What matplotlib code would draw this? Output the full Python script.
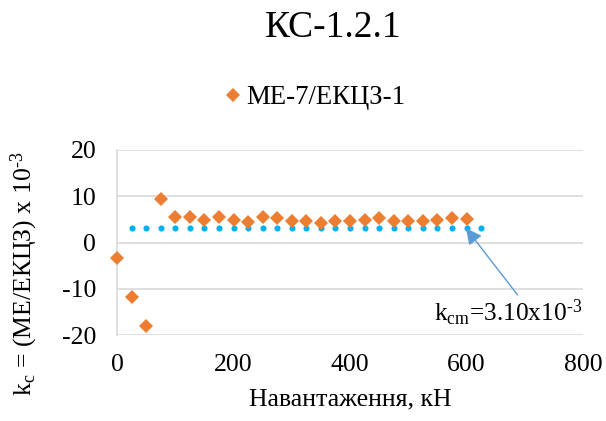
import matplotlib
matplotlib.use("Agg")
import matplotlib.pyplot as plt

plt.rcParams["font.family"] = ["Liberation Serif", "DejaVu Serif"]
plt.rcParams["mathtext.fontset"] = "custom"
plt.rcParams["mathtext.rm"] = "Liberation Serif"
plt.rcParams["mathtext.it"] = "Liberation Serif:italic"
plt.rcParams["axes.unicode_minus"] = False

# Load steps, kN
load = [0, 25, 50, 75, 100, 125, 150, 175, 200, 225, 250, 275, 300,
        325, 350, 375, 400, 425, 450, 475, 500, 525, 550, 575, 600]
# k_c = ME/EKCZ x 10^-3
kc = [-3.4, -11.7, -18.1, 9.35, 5.6, 5.5, 4.9, 5.5, 4.9, 4.5, 5.5, 5.3, 4.7,
      4.7, 4.3, 4.7, 4.7, 4.9, 5.2, 4.7, 4.7, 4.7, 4.9, 5.2, 5.0]
# Mean coefficient line
mean_load = [25, 50, 75, 100, 125, 150, 175, 200, 225, 250, 275, 300, 325,
             350, 375, 400, 425, 450, 475, 500, 525, 550, 575, 600, 625]
kcm = 3.10

x_ticks = [0, 200, 400, 600, 800]
y_ticks = [-20, -10, 0, 10, 20]

HY = "\u2010"  # typographic hyphen for superscripts

fig = plt.figure(figsize=(6.06, 4.21), dpi=100)
ax = fig.add_axes([117 / 606, 1 - 335 / 421, (583 - 117) / 606, (335 - 150) / 421])

ax.plot(mean_load, [kcm] * len(mean_load), linestyle="none", marker="o",
        markersize=4.4, color="#00b0f0", markeredgewidth=0, zorder=2,
        clip_on=False)
ax.plot(load, kc, linestyle="none", marker="D", markersize=7.2,
        color="#ed7d31", markeredgewidth=0, zorder=3, label="МЕ-7/ЕКЦЗ-1",
        clip_on=False)

ax.set_xlim(0, 800)
ax.set_ylim(-20, 20)
ax.set_xticks(x_ticks)
ax.set_yticks(y_ticks)
ax.tick_params(axis="both", length=0, labelsize=18.5)
ax.tick_params(axis="y", pad=15)
ax.tick_params(axis="x", pad=14)
ax.grid(axis="y", color="#d9d9d9", linewidth=1.2)
ax.set_axisbelow(True)
for side in ("top", "right", "bottom"):
    ax.spines[side].set_visible(False)
ax.spines["left"].set_color("#d9d9d9")
ax.spines["left"].set_linewidth(1.2)

ax.set_xlabel("Навантаження, кН", fontsize=18.5, labelpad=9)
fig.text(24 / 606, 1 - 274 / 421,
         r"k$_\mathregular{c}$ = (МЕ/ЕКЦЗ) x 10$^\mathregular{" + HY + "3}$",
         rotation=90, fontsize=18.5, ha="center", va="center")

fig.text(333 / 606, 1 - 28 / 421, "КС-1.2.1", fontsize=27,
         ha="center", va="center")

leg = fig.legend(loc="center", bbox_to_anchor=(313 / 606, 1 - 98 / 421),
                 frameon=False, fontsize=19.3, handletextpad=0.05,
                 handlelength=0.9, borderpad=0)

ax.annotate(r"k$_\mathregular{cm}$=3.10x10$^\mathregular{" + HY + "3}$",
            xy=(599, kcm), xytext=(672, -15.2), fontsize=18.3,
            ha="center", va="center",
            arrowprops=dict(arrowstyle="-|>", color="#5b9bd5", lw=1.0,
                            mutation_scale=24, shrinkA=0, shrinkB=0,
                            relpos=(0.6, 0.85)))

fig.savefig("out.png", dpi=100)
